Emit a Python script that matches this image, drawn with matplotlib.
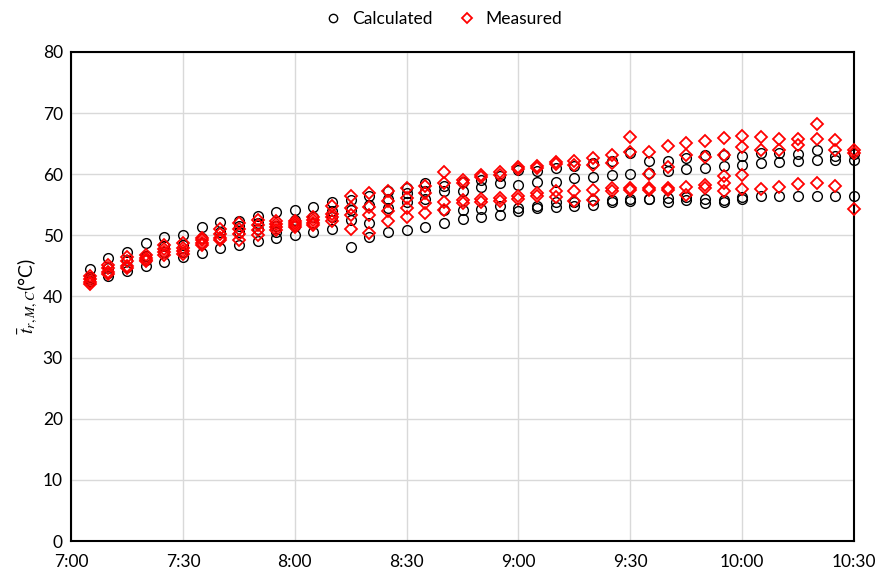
import matplotlib.pyplot as plt
from matplotlib.lines import Line2D

plt.rcParams['font.family'] = ['Lato', 'DejaVu Sans']
plt.rcParams['mathtext.fontset'] = 'stix'

# sampling times (every 5 min)
times = ['7:05', '7:10', '7:15', '7:20', '7:25', '7:30', '7:35', '7:40', '7:45', '7:50',
         '7:55', '8:00', '8:05', '8:10', '8:15', '8:20', '8:25', '8:30', '8:35', '8:40',
         '8:45', '8:50', '8:55', '9:00', '9:05', '9:10', '9:15', '9:20', '9:25', '9:30',
         '9:35', '9:40', '9:45', '9:50', '9:55', '10:00', '10:05', '10:10', '10:15', '10:20',
         '10:25', '10:30']

# calculated values at each time
calc = [[44.5, 43.2, 42.8, 42.5], [46.3, 44.7, 43.8, 43.3], [47.3, 46.0, 44.8, 44.2],
        [48.8, 46.7, 46.0, 45.0], [49.8, 48.3, 47.3, 45.7], [50.0, 48.5, 47.3, 46.4],
        [51.3, 49.5, 48.8, 47.1], [52.2, 50.5, 49.5, 47.9], [52.3, 51.5, 50.5, 48.4],
        [53.2, 52.0, 51.0, 49.1], [53.9, 51.5, 50.5, 49.6], [54.1, 52.5, 51.5, 50.1],
        [54.7, 53.0, 52.0, 50.6], [55.4, 54.0, 53.0, 51.0], [55.8, 54.2, 52.5, 48.1],
        [56.5, 55.0, 52.0, 49.8], [57.3, 56.0, 54.5, 50.5], [57.8, 57.0, 55.5, 50.9],
        [58.5, 57.3, 56.0, 51.4], [58.0, 57.2, 54.2, 52.1], [58.8, 57.3, 54.2, 52.6],
        [59.0, 57.9, 54.3, 53.0], [59.7, 58.5, 54.8, 53.4], [60.7, 58.3, 54.5, 54.0],
        [60.5, 58.7, 54.8, 54.4], [61.0, 58.8, 55.5, 54.7], [61.3, 59.4, 55.4, 54.8],
        [61.8, 59.5, 55.8, 55.0], [62.1, 59.8, 55.8, 55.4], [63.4, 60.0, 55.9, 55.7],
        [62.1, 60.2, 56.0, 55.9], [62.1, 60.5, 56.1, 55.4], [62.6, 60.8, 56.3, 55.8],
        [63.2, 61.1, 56.0, 55.3], [63.2, 61.3, 55.8, 55.5], [62.9, 61.5, 56.2, 56.0],
        [63.4, 61.9, 56.4], [63.4, 62.0, 56.5], [63.3, 62.1, 56.5],
        [64.0, 62.4, 56.4], [63.0, 62.4, 56.5], [63.3, 62.4, 56.4]]

# measured values at each time
meas = [[43.3, 42.8, 42.3, 42.0], [45.2, 44.6, 44.0, 43.6], [46.5, 45.8, 45.0, 44.6],
        [46.8, 46.3, 46.0, 45.8], [48.5, 47.8, 47.2, 46.8], [48.7, 48.0, 47.5, 46.9],
        [49.6, 49.2, 48.8, 48.5], [51.0, 50.2, 49.6, 49.2], [52.0, 51.0, 50.3, 49.2],
        [52.5, 51.7, 50.8, 50.1], [52.3, 51.8, 51.3, 50.9], [52.4, 52.0, 51.7, 51.3],
        [53.0, 52.5, 52.0, 51.7], [54.8, 53.5, 53.0, 52.4], [56.5, 54.5, 53.3, 51.0],
        [57.0, 54.7, 53.4, 50.4], [57.2, 55.6, 54.0, 52.3], [57.7, 56.1, 54.5, 53.0],
        [58.1, 56.9, 55.3, 53.7], [60.3, 58.5, 55.5, 54.2], [59.0, 58.5, 55.8, 55.3],
        [59.9, 59.5, 55.9, 55.5], [60.3, 59.8, 56.1, 55.7], [61.2, 60.8, 56.5, 56.0],
        [61.4, 61.0, 57.0, 56.5], [62.0, 61.6, 57.2, 56.2], [62.2, 61.5, 57.2, 55.6],
        [62.6, 61.5, 57.4, 55.8], [63.2, 61.8, 57.8, 57.2], [66.1, 63.7, 57.8, 57.4],
        [63.6, 60.0, 57.7, 57.5], [64.6, 61.2, 57.7, 57.5], [65.1, 63.2, 57.9, 56.6],
        [65.4, 62.8, 58.3, 57.7], [65.9, 63.2, 59.7, 58.5, 57.3], [66.3, 64.5, 59.9, 57.6],
        [66.1, 64.0, 57.6], [65.7, 63.9, 57.9], [65.7, 64.8, 58.4],
        [68.2, 65.7, 58.5], [65.6, 63.9, 58.1], [63.9, 63.5, 54.3]]

xticks = ['7:00', '7:30', '8:00', '8:30', '9:00', '9:30', '10:00', '10:30']


def to_min(s):
    h, m = s.split(':')
    return int(h) * 60 + int(m)


fig = plt.figure(figsize=(8.78, 5.71), dpi=100)
ax = fig.add_axes([0.081, 0.0525, 0.8917, 0.8565])

for t, vals in zip(times, calc):
    ax.plot([to_min(t)] * len(vals), vals, 'o', ms=7, mfc='none', mec='black',
            mew=1.0, clip_on=False, zorder=3)
for t, vals in zip(times, meas):
    ax.plot([to_min(t)] * len(vals), vals, 'D', ms=6.3, mfc='none', mec='red',
            mew=1.3, clip_on=False, zorder=4)

ax.set_xlim(to_min('7:00'), to_min('10:30'))
ax.set_ylim(0, 80)
ax.set_xticks([to_min(s) for s in xticks])
ax.set_xticklabels(xticks)
ax.set_yticks(range(0, 81, 10))
ax.tick_params(length=0, labelsize=12.5)
ax.tick_params(axis='x', pad=9)
ax.tick_params(axis='y', pad=6)
ax.grid(color='#d9d9d9', lw=1)
ax.set_axisbelow(True)
for sp in ax.spines.values():
    sp.set_color('black')
    sp.set_linewidth(1.5)

ax.set_ylabel(r'$\bar{t}_{r,M,C}$(°C)', fontsize=14, labelpad=2)

handles = [Line2D([], [], ls='none', marker='o', ms=6, mfc='none', mec='black', mew=1.0),
           Line2D([], [], ls='none', marker='D', ms=5.5, mfc='none', mec='red', mew=1.3)]
fig.legend(handles, ['Calculated', 'Measured'], loc='upper center',
           bbox_to_anchor=(0.5, 1.008), ncol=2, frameon=False, fontsize=12.5,
           handletextpad=0.05, columnspacing=1.0)

fig.savefig('out.png', dpi=100)
